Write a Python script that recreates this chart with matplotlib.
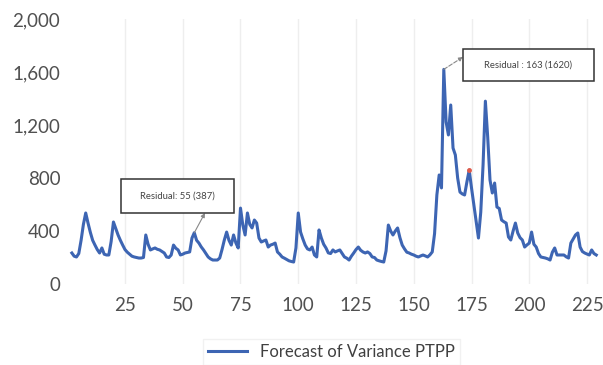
import matplotlib
matplotlib.use('Agg')
from matplotlib import pyplot as plt
from matplotlib.patches import Rectangle
from matplotlib.ticker import FuncFormatter

plt.rcParams['font.family'] = ['Lato', 'DejaVu Sans']

start = 2
variance = [
    234, 210, 204, 230, 330, 450, 536, 460, 390, 330,          # 2-11
    294, 260, 234, 272, 225, 219, 219, 320, 468, 420,          # 12-21
    370, 330, 294, 260, 240, 225, 210, 204, 200, 196,          # 22-31
    196, 200, 370, 300, 257, 265, 272, 262, 257, 245,          # 32-41
    234, 204, 200, 219, 294, 270, 257, 219, 225, 234,          # 42-51
    238, 242, 347, 387, 330, 309, 280, 257, 230, 204,          # 52-61
    190, 181, 181, 181, 196, 260, 332, 392, 330, 294,          # 62-71
    370, 310, 272, 573, 445, 370, 536, 450, 423, 483,          # 72-81
    460, 347, 317, 325, 332, 279, 294, 300, 309, 242,          # 82-91
    225, 204, 195, 185, 175, 170, 166, 272, 536, 392,          # 92-101
    340, 294, 265, 257, 279, 219, 204, 408, 347, 300,          # 102-111
    272, 235, 230, 257, 242, 250, 257, 230, 204, 195,          # 112-121
    181, 210, 234, 260, 279, 255, 242, 234, 242, 230,          # 122-131
    204, 200, 181, 175, 170, 166, 250, 445, 400, 370,          # 132-141
    400, 423, 350, 294, 265, 240, 234, 225, 219, 210,          # 142-151
    204, 212, 219, 212, 204, 220, 242, 380, 672, 823,          # 152-161
    725, 1620, 1223, 1125, 1351, 1026, 974, 800, 694, 680,     # 162-171
    672, 770, 860, 725, 600, 470, 347, 543, 900, 1380,         # 172-181
    1110, 785, 687, 762, 581, 570, 483, 470, 460, 355,         # 182-191
    332, 400, 460, 385, 350, 332, 279, 295, 309, 392,          # 192-201
    300, 279, 230, 204, 200, 196, 190, 181, 240, 272,          # 202-211
    219, 219, 219, 219, 205, 196, 309, 340, 370, 385,          # 212-221
    279, 245, 234, 226, 219, 257, 230, 219,                    # 222-229
]
periods = list(range(start, start + len(variance)))

x_ticks = [25, 50, 75, 100, 125, 150, 175, 200, 225]
y_ticks = [0, 400, 800, 1200, 1600, 2000]

note_1 = (55, 'Residual: 55 (387)')
note_2 = (163, 'Residual : 163 (1620)')
red_point = 174

fig = plt.figure(figsize=(6.03, 3.65), dpi=100)
ax = fig.add_axes([0.1115, 0.2219, 0.885, 0.726])

ax.plot(periods, variance, color='#3d65b3', lw=2.2, label='Forecast of Variance PTPP')
ax.plot(red_point, variance[red_point - start], 'o', color='#e05a4a', ms=2.5)

ax.set_xlim(0, 231)
ax.set_ylim(0, 2000)
ax.set_xticks(x_ticks)
ax.set_yticks(y_ticks)
ax.yaxis.set_major_formatter(FuncFormatter(lambda v, p: f'{int(v):,}'))
ax.tick_params(axis='both', length=0, labelsize=13.5, colors='#505050')
ax.tick_params(axis='x', pad=9)
ax.tick_params(axis='y', pad=5)
ax.grid(axis='x', color='#eeeeee', lw=1)
for s in ax.spines.values():
    s.set_visible(False)


def callout(ax, idx, text, x0, x1, y0, y1, ax_from, ls='-'):
    ax.add_patch(Rectangle((x0, y0), x1 - x0, y1 - y0, fc='white',
                           ec='#333333', lw=1.1, zorder=4))
    ax.text((x0 + x1) / 2, (y0 + y1) / 2, text, ha='center', va='center',
            fontsize=6.8, color='#444444', zorder=5)
    ax.annotate('', xy=ax_from, xytext=(idx, variance[idx - start]),
                arrowprops=dict(arrowstyle='-|>', color='#888888', lw=0.8,
                                ls=ls, mutation_scale=6, shrinkA=0, shrinkB=0),
                zorder=3)


callout(ax, note_1[0], note_1[1], 23.3, 72.2, 536, 792, (59.6, 536))
callout(ax, note_2[0], note_2[1], 171.3, 228.0, 1532, 1774, (171.3, 1713), ls='--')

fig.legend(loc='center', bbox_to_anchor=(0.55, 0.035), frameon=True,
           edgecolor='#eeeeee', fancybox=False, fontsize=12,
           labelcolor='#404040', handlelength=2.3, borderpad=0.3)

plt.savefig('out.png', dpi=100)
